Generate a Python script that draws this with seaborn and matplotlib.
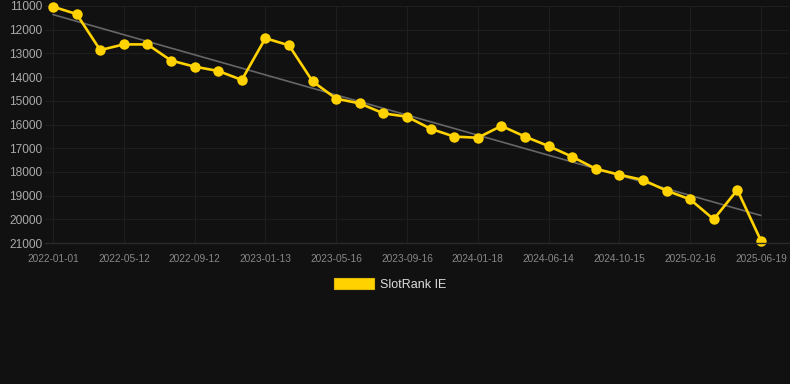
import numpy as np
import pandas as pd
import seaborn as sns
import matplotlib.pyplot as plt
from matplotlib.patches import Patch

# rank values (one point roughly every 6 weeks)
ranks = [11030, 11340, 12860, 12620, 12620, 13300, 13560, 13740, 14120, 12360,
         12660, 14180, 14910, 15110, 15530, 15670, 16180, 16510, 16560, 16060,
         16510, 16910, 17360, 17870, 18120, 18340, 18790, 19160, 20000, 18760,
         20900]
tick_labels = ["2022-01-01", "2022-05-12", "2022-09-12", "2023-01-13", "2023-05-16",
               "2023-09-16", "2024-01-18", "2024-06-14", "2024-10-15", "2025-02-16",
               "2025-06-19"]
y_ticks = [11000, 12000, 13000, 14000, 15000, 16000, 17000, 18000, 19000, 20000, 21000]
series_name = "SlotRank IE"

bg = "#111111"
gold = "#FFD200"

df = pd.DataFrame({"pos": np.arange(len(ranks)), "rank": ranks})

# linear trend through the points
coef = np.polyfit(df["pos"], df["rank"], 1)
df["trend"] = np.polyval(coef, df["pos"])

sns.set_theme(style="dark")
plt.rcParams["font.family"] = ["Liberation Sans", "DejaVu Sans"]

fig = plt.figure(figsize=(7.9, 3.84), dpi=100, facecolor=bg)
ax = fig.add_axes([45 / 790, (384 - 243) / 384, 744 / 790, 237 / 384])
ax.set_facecolor(bg)

sns.lineplot(data=df, x="pos", y="trend", ax=ax, color="#666666", linewidth=1.2)
sns.lineplot(data=df, x="pos", y="rank", ax=ax, color=gold, linewidth=1.9,
             marker="o", markersize=7.5, markeredgewidth=0, clip_on=False)

ax.set_ylim(21000, 11000)
ax.set_xlim(-0.34, 31.19)
ax.set_yticks(y_ticks)
ax.set_yticklabels([str(v) for v in y_ticks], fontsize=8.6, color="#aaaaaa")
ax.set_xticks(df["pos"][::3])
ax.set_xticklabels(tick_labels, fontsize=7.3, color="#888888")
ax.tick_params(axis="x", length=0, pad=8)
ax.tick_params(axis="y", length=0, pad=2)
ax.set_xlabel("")
ax.set_ylabel("")

ax.grid(True, color="#1e1e1e", linewidth=0.8)
for side in ["top", "right", "left"]:
    ax.spines[side].set_visible(False)
ax.spines["bottom"].set_color("#2a2a2a")
ax.spines["bottom"].set_linewidth(1)

handle = Patch(facecolor=gold, edgecolor="#e0b800", linewidth=0.8)
leg = fig.legend([handle], [series_name], loc="center", bbox_to_anchor=(0.494, 0.26),
                 frameon=False, fontsize=9, handlelength=3.2, handleheight=1.0,
                 handletextpad=0.5)
for t in leg.get_texts():
    t.set_color("#dddddd")

fig.savefig("out.png", dpi=100, facecolor=bg)
